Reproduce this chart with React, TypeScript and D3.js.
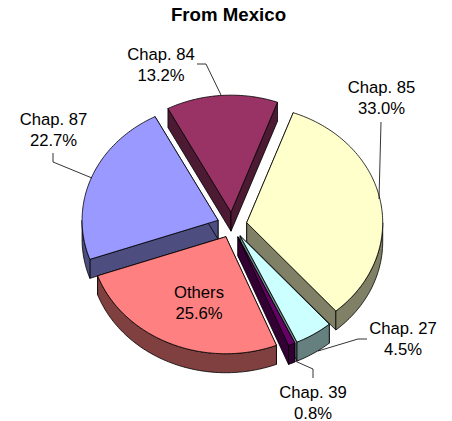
import React from "react";
import * as d3 from "d3";

const titleText = "From Mexico";
const categories = ["Chap. 85", "Chap. 27", "Chap. 39", "Others", "Chap. 87", "Chap. 84"];
const shares = [33.0, 4.5, 0.8, 25.6, 22.7, 13.2];
const topColors = ["#FFFFCC", "#CCFFFF", "#660066", "#FF8080", "#9999FF", "#993366"];
const wallColors = ["#808066", "#668080", "#330033", "#804040", "#4D4D80", "#4D1A33"];
const paintOrder = [5, 4, 0, 3, 1, 2];
const labelX = [381.5, 403, 313, 199, 53.5, 161];
const labelY = [93, 334, 398, 298, 125, 60];
const leaders: ([number, number][] | null)[] = [
  [[381, 122], [379, 199]],
  [[367, 339], [358, 339], [318, 351]],
  [[313, 378], [313, 369], [295, 361]],
  null,
  [[53, 153], [53, 162], [92, 178]],
  [[197, 64], [206, 64], [221, 95]],
];

const W = 452, H = 421;
const CX = 232, CY = 225, RX = 136, RY = 117, DEPTH = 19, EXPLODE = 0.11;
const START = (20 * Math.PI) / 180;

const px = d3.scaleLinear().domain([-1, 1]).range([CX - RX, CX + RX]);
const py = d3.scaleLinear().domain([-1, 1]).range([CY - RY, CY + RY]);

const pie = d3.pie<number>().sort(null).startAngle(START).endAngle(START + 2 * Math.PI);
const arcs = pie(shares);
const line = d3.line<[number, number]>().x(d => d[0]).y(d => d[1]);

function arcPts(a0: number, a1: number, ox: number, oy: number, dy = 0): [number, number][] {
  const n = Math.max(2, Math.ceil((a1 - a0) / 0.02));
  return d3.range(n + 1).map(i => {
    const a = a0 + ((a1 - a0) * i) / n;
    return [px(Math.sin(a)) + ox, py(-Math.cos(a)) + oy + dy] as [number, number];
  });
}

export default function App() {
  return (
    <svg width={W} height={H} style={{ position: "absolute", left: 0, top: 0, display: "block" }}
      fontFamily="'Liberation Sans', Arial, sans-serif">
      <text x={228.5} y={20.5} textAnchor="middle" fontWeight="bold" fontSize={18.67} fill="#000">{titleText}</text>
      {paintOrder.map(i => {
        const d = arcs[i];
        const mid = (d.startAngle + d.endAngle) / 2;
        const ox = px(EXPLODE * Math.sin(mid)) - CX;
        const oy = py(-EXPLODE * Math.cos(mid)) - CY;
        const apex: [number, number] = [CX + ox, CY + oy];
        const apexLow: [number, number] = [apex[0], apex[1] + DEPTH];
        const top = arcPts(d.startAngle, d.endAngle, ox, oy);
        const first = top[0], last = top[top.length - 1];
        const low = (p: [number, number]): [number, number] => [p[0], p[1] + DEPTH];
        // the outer wall only shows on the front half of the ellipse
        const ranges: [number, number][] = [];
        for (const k of [0, 1]) {
          const f0 = Math.PI / 2 + k * 2 * Math.PI, f1 = (3 * Math.PI) / 2 + k * 2 * Math.PI;
          const a0 = Math.max(d.startAngle, f0), a1 = Math.min(d.endAngle, f1);
          if (a1 > a0) ranges.push([a0, a1]);
        }
        const style = { stroke: "#000", strokeWidth: 0.8, strokeLinejoin: "round" as const };
        return (
          <g key={categories[i]}>
            <path d={line([apex, first, low(first), apexLow])! + "Z"} fill={wallColors[i]} {...style} />
            <path d={line([apex, last, low(last), apexLow])! + "Z"} fill={wallColors[i]} {...style} />
            {ranges.map(([a0, a1], k) => {
              const upper = arcPts(a0, a1, ox, oy);
              const lower = arcPts(a0, a1, ox, oy, DEPTH).reverse();
              return <path key={k} d={line([...upper, ...lower])! + "Z"} fill={wallColors[i]} {...style} />;
            })}
            <path d={line([apex, ...top])! + "Z"} fill={topColors[i]} {...style} />
          </g>
        );
      })}
      {leaders.map((pts, i) => pts && (
        <path key={i} d={line(pts)!} fill="none" stroke="#000" strokeWidth={0.8} />
      ))}
      {categories.map((c, i) => (
        <text key={c} textAnchor="middle" fontSize={16.67} fill="#000">
          <tspan x={labelX[i]} y={labelY[i]}>{c}</tspan>
          <tspan x={labelX[i]} y={labelY[i] + 20.5}>{shares[i].toFixed(1)}%</tspan>
        </text>
      ))}
    </svg>
  );
}
